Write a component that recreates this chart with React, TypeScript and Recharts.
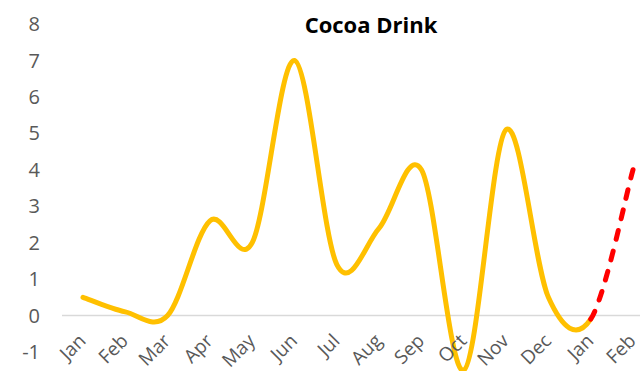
import React from "react";
import { LineChart, Line, XAxis, YAxis, ReferenceLine } from "recharts";

const MONTHS = ["Jan", "Feb", "Mar", "Apr", "May", "Jun", "Jul", "Aug", "Sep", "Oct", "Nov", "Dec", "Jan", "Feb"];
const COCOA = [0.5, 0.1, 0.0, 2.6, 2.0, 7.0, 1.4, 2.4, 4.0, -1.5, 5.1, 0.5, -0.1, 4.0];
const Y_TICKS = [-1, 0, 1, 2, 3, 4, 5, 6, 7, 8];
// index of the last actual month; the segment after it is the forecast
const LAST_ACTUAL = 12;

const data = MONTHS.map((m, i) => ({ idx: i, month: m, value: COCOA[i] }));

// Smoothed (Catmull-Rom style) curve that only draws segments [from, to),
// while using every point for the tangents so both pieces join seamlessly.
const segmentCurve = (from: number, to: number) => (context: any) => {
  let pts: [number, number][] = [];
  return {
    areaStart() {},
    areaEnd() {},
    lineStart() {
      pts = [];
    },
    point(x: number, y: number) {
      pts.push([+x, +y]);
    },
    lineEnd() {
      const n = pts.length;
      const end = Math.min(to, n - 1);
      if (n < 2 || from >= end) return;
      context.moveTo(pts[from][0], pts[from][1]);
      for (let i = from; i < end; i++) {
        const p0 = pts[Math.max(i - 1, 0)];
        const p1 = pts[i];
        const p2 = pts[i + 1];
        const p3 = pts[Math.min(i + 2, n - 1)];
        context.bezierCurveTo(
          p1[0] + (p2[0] - p0[0]) / 6,
          p1[1] + (p2[1] - p0[1]) / 6,
          p2[0] - (p3[0] - p1[0]) / 6,
          p2[1] - (p3[1] - p1[1]) / 6,
          p2[0],
          p2[1]
        );
      }
    },
  };
};

const actualCurve = segmentCurve(0, LAST_ACTUAL);
const forecastCurve = segmentCurve(LAST_ACTUAL, MONTHS.length - 1);

const MonthTick = ({ x, y, payload }: any) => (
  <text
    x={0}
    y={0}
    transform={`translate(${x + 4},${y - 18}) rotate(-45)`}
    textAnchor="end"
    fill="#595959"
    fontSize={19}
    fontFamily="'Open Sans', sans-serif"
  >
    {MONTHS[payload.value]}
  </text>
);

export default function App() {
  return (
    <div
      style={{
        position: "fixed",
        left: 0,
        top: 0,
        width: 640,
        height: 371,
        overflow: "hidden",
        background: "#fff",
        fontFamily: "'Open Sans', sans-serif",
      }}
    >
      {/* the Oct dip runs below the -1 gridline, so lines must not be clipped */}
      <style>{`.recharts-wrapper [clip-path] { clip-path: none !important; }`}</style>
      <div
        style={{
          position: "absolute",
          left: 271,
          top: 13,
          width: 200,
          textAlign: "center",
          fontSize: 22,
          lineHeight: "22px",
          fontWeight: 700,
          color: "#000",
          zIndex: 1,
        }}
      >
        Cocoa Drink
      </div>
      <LineChart width={654} height={371} data={data} margin={{ top: 24, right: 0, bottom: 0, left: 0 }}>
        <XAxis
          dataKey="idx"
          type="category"
          interval={0}
          axisLine={false}
          tickLine={false}
          height={19}
          padding={{ left: 21, right: 21 }}
          tick={<MonthTick />}
        />
        <YAxis
          width={62}
          domain={[-1, 8]}
          ticks={Y_TICKS}
          allowDataOverflow
          axisLine={false}
          tickLine={false}
          tickMargin={16}
          tick={{ fill: "#595959", fontSize: 20, fontFamily: "'Open Sans', sans-serif" }}
        />
        <ReferenceLine y={0} stroke="#D9D9D9" strokeWidth={1.5} />
        <Line
          dataKey="value"
          type={actualCurve as any}
          stroke="#FFC000"
          strokeWidth={5}
          strokeLinecap="round"
          strokeLinejoin="round"
          dot={false}
          activeDot={false}
          isAnimationActive={false}
        />
        <Line
          dataKey="value"
          type={forecastCurve as any}
          stroke="#FF0000"
          strokeWidth={5}
          strokeDasharray="9 12"
          strokeLinecap="round"
          dot={false}
          activeDot={false}
          isAnimationActive={false}
        />
      </LineChart>
    </div>
  );
}
